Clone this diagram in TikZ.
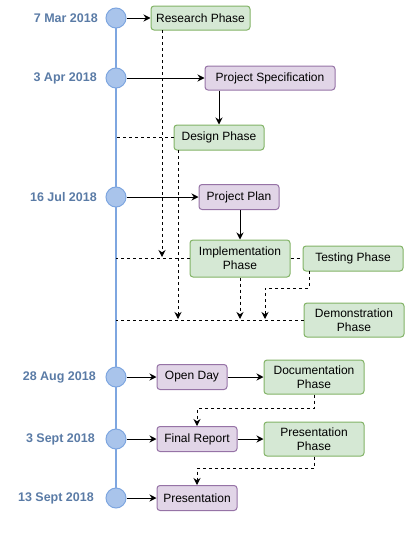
\documentclass[tikz,border=0pt]{standalone}
\usepackage{fontspec}
\setmainfont{Liberation Sans}
\usetikzlibrary{arrows.meta,backgrounds}
\definecolor{gfill}{HTML}{D5E8D4}
\definecolor{gdraw}{HTML}{82B366}
\definecolor{pfill}{HTML}{E1D5E7}
\definecolor{pdraw}{HTML}{9673A6}
\definecolor{tline}{HTML}{7EA6E0}
\definecolor{tfill}{HTML}{A9C4EB}
\definecolor{datec}{HTML}{5A7BA6}
\begin{document}
\begin{tikzpicture}[x=1pt,y=-1pt,
 box/.style={rounded corners=3pt, line width=1pt, inner sep=0pt, align=center, font=\fontsize{12}{14}\selectfont},
 gbox/.style={box, fill=gfill, draw=gdraw},
 pbox/.style={box, fill=pfill, draw=pdraw},
 dot/.style={circle, minimum size=20pt, inner sep=0pt, fill=tfill, draw=tline, line width=1pt},
 datelbl/.style={anchor=east, text=datec, font=\fontsize{12.5}{14}\selectfont\bfseries, inner sep=0pt},
 arr/.style={-{Stealth[length=7pt,width=7pt]}, line width=1pt},
 dsh/.style={dash pattern=on 3pt off 3pt, line width=1pt},
 darr/.style={dsh, -{Stealth[length=7pt,width=7pt]}}
]
\useasboundingbox (0,0) rectangle (410,546);

% timeline dots
\node[dot] (c1) at (116,18) {};
\node[dot] (c2) at (116,78) {};
\node[dot] (c3) at (116,197) {};
\node[dot] (c4) at (116,377) {};
\node[dot] (c5) at (116,439) {};
\node[dot] (c6) at (116,498) {};
\begin{scope}[on background layer]
\draw[tline, line width=1.5pt] (c1.center) -- (c6.center);
\end{scope}

% dates
\node[datelbl] (d1) at (98,18) {7 Mar 2018};
\node[datelbl] (d2) at (97,78) {3 Apr 2018};
\node[datelbl] (d3) at (97,197) {16 Jul 2018};
\node[datelbl] (d4) at (96,377) {28 Aug 2018};
\node[datelbl] (d5) at (95,439) {3 Sept 2018};
\node[datelbl] (d6) at (94,498) {13 Sept 2018};

% boxes
\node[gbox, minimum width=99pt, minimum height=24pt] (rp) at (200.5,18) {Research Phase};
\node[pbox, minimum width=130pt, minimum height=24pt] (ps) at (270,78) {Project Specification};
\node[gbox, minimum width=90pt, minimum height=25pt] (dp) at (219,137.5) {Design Phase};
\node[pbox, minimum width=80pt, minimum height=25pt] (pp) at (239,197) {Project Plan};
\node[gbox, minimum width=100pt, minimum height=37pt] (ip) at (240,258.5) {Implementation\\Phase};
\node[gbox, minimum width=100pt, minimum height=25pt] (tp) at (353,258.5) {Testing Phase};
\node[gbox, minimum width=100pt, minimum height=34pt] (dm) at (354,320) {Demonstration\\Phase};
\node[pbox, minimum width=70pt, minimum height=25pt] (od) at (192,377) {Open Day};
\node[gbox, minimum width=100pt, minimum height=34pt] (dc) at (314,377) {Documentation\\Phase};
\node[pbox, minimum width=80pt, minimum height=25pt] (fr) at (197,439) {Final Report};
\node[gbox, minimum width=100pt, minimum height=34pt] (prp) at (314,439) {Presentation\\Phase};
\node[pbox, minimum width=80pt, minimum height=25pt] (pr) at (197,498) {Presentation};

% junction coordinates
\coordinate (rpdown) at (162,30);
\coordinate (rpend) at (162,257);
\coordinate (dpdown) at (178,150);
\coordinate (dpend) at (178,319);
\coordinate (tpdown) at (309,271);
\coordinate (tpend) at (265,319);

% solid arrows
\draw[arr] (c1) -- (rp);
\draw[arr] (c2) -- (ps);
\draw[arr] (ps.south -| dp.north) -- (dp.north);
\draw[arr] (c3) -- (pp);
\draw[arr] (pp.south -| ip.north) -- (ip.north);
\draw[arr] (c4) -- (od);
\draw[arr] (od) -- (dc);
\draw[arr] (c5) -- (fr);
\draw[arr] (fr) -- (prp);
\draw[arr] (c6) -- (pr);

% dashed lines to timeline
\draw[dsh] (dp.west) -- (dp.west -| c1.center);
\draw[dsh] (ip.west) -- (ip.west -| c1.center);
\draw[dsh] (dm.west) -- (dm.west -| c1.center);
\draw[dsh] (ip.east) -- (tp.west);

% dashed arrows
\draw[darr] (rpdown) -- (rpend);
\draw[darr] (dpdown) -- (dpend);
\draw[darr] (ip.south) -- (ip.south |- dpend);
\draw[darr] (tpdown) -- ++(0,17) -| (tpend);
\draw[darr] (dc.south) -- ++(0,14) -| (fr.north);
\draw[darr] (prp.south) -- ++(0,12) -| (pr.north);
\end{tikzpicture}
\end{document}
